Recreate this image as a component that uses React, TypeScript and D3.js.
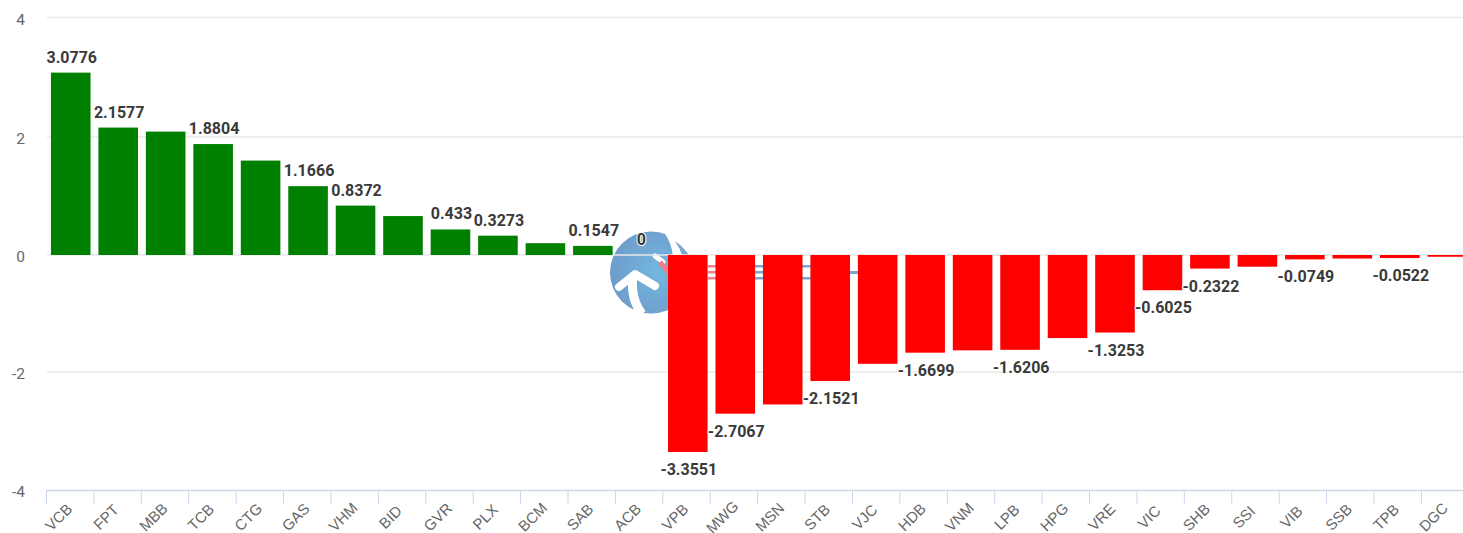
import React from "react";
import * as d3 from "d3";

const categories = ["VCB","FPT","MBB","TCB","CTG","GAS","VHM","BID","GVR","PLX","BCM","SAB","ACB","VPB","MWG","MSN","STB","VJC","HDB","VNM","LPB","HPG","VRE","VIC","SHB","SSI","VIB","SSB","TPB","DGC"];
const values = [3.0776,2.1577,2.09,1.8804,1.6,1.1666,0.8372,0.66,0.433,0.3273,0.2,0.1547,0,-3.3551,-2.7067,-2.55,-2.1521,-1.86,-1.6699,-1.63,-1.6206,-1.42,-1.3253,-0.6025,-0.2322,-0.2,-0.0749,-0.06,-0.0522,-0.03];
// labels the chart dropped where they would overlap
const hiddenLabels = ["MBB","CTG","BID","BCM","MSN","VJC","VNM","HPG","SSI","SSB","DGC"];
const yTicks = [4, 2, 0, -2, -4];

const width = 1463;
const height = 533;
const plotLeft = 47;
const plotRight = 1471;
const tickLeft = 46.5;
const tickStep = 47.41;

export default function App() {
  const x = d3.scaleBand().domain(categories).range([plotLeft, plotRight]).paddingInner(0.166).paddingOuter(0.083);
  // the screenshot is slightly uneven, so the scale is pinned at each gridline
  const y = d3.scaleLinear().domain([-4, -2, 0, 2, 4]).range([490, 372, 255, 137, 17.5]);

  return (
    <svg
      width={width}
      height={height}
      style={{ position: "absolute", left: 0, top: 0, background: "#fff" }}
    >
      <defs>
        <radialGradient id="logoFill" cx="0.6" cy="0.5" r="0.6">
          <stop offset="0" stopColor="#72b8e0" />
          <stop offset="1" stopColor="#6f9ccb" />
        </radialGradient>
      </defs>

      {/* watermark */}
      <g>
        <circle cx={651} cy={272.5} r={41} fill="url(#logoFill)" />
        <path d="M664 232 Q676 250 672 268 L690 300 L700 240 Z" fill="#fff" />
        <path d="M675 241 Q684 247 691 258 L683 258 Q681 250 675 241 Z" fill="#7aa6d2" />
        <path d="M655 256 L663 262" stroke="#fff" strokeWidth={5} strokeLinecap="round" />
        <path d="M660 262 L675 280" stroke="#f47c84" strokeWidth={5} />
        <path d="M619 287 L635 274 L655 286" fill="none" stroke="#fff" strokeWidth={8} strokeLinecap="round" strokeLinejoin="round" />
        <path d="M633 276 Q630 298 642 314" fill="none" stroke="#fff" strokeWidth={9} />
        <g fill="#f0808a">
          <rect x={708} y={265} width={8} height={2.5} />
          <rect x={708} y={271} width={8} height={2.5} />
          <rect x={708} y={277} width={8} height={2.5} />
        </g>
        <g fill="#7aa6d2">
          <rect x={754} y={265} width={10} height={2.5} />
          <rect x={754} y={271} width={10} height={2.5} />
          <rect x={754} y={277} width={10} height={2.5} />
          <rect x={802} y={265} width={9} height={2.5} />
          <rect x={802} y={277} width={9} height={2.5} />
          <rect x={850} y={271} width={8} height={3} />
        </g>
      </g>

      {yTicks.map((t) => (
        <g key={t}>
          {t !== -4 && (
            <line x1={plotLeft} x2={width} y1={y(t)} y2={y(t)} stroke="#e9e9e9" strokeWidth={1.5} />
          )}
          <text x={25} y={y(t) + 7} textAnchor="end" fontFamily="Roboto, sans-serif" fontSize={15.5} fill="#666">
            {t}
          </text>
        </g>
      ))}

      {categories.map((c, i) => {
        const v = values[i];
        return (
          <rect
            key={c}
            x={x(c)}
            y={y(Math.max(v, 0))}
            width={x.bandwidth()}
            height={Math.abs(y(v) - y(0))}
            fill={v >= 0 ? "#008000" : "#ff0000"}
          />
        );
      })}

      {/* x axis */}
      <line x1={tickLeft} x2={width} y1={490.5} y2={490.5} stroke="#ccd6eb" strokeWidth={1.5} />
      {categories.map((c, i) => {
        const tx = tickLeft + i * tickStep;
        return <line key={c} x1={tx} x2={tx} y1={490} y2={504} stroke="#ccd6eb" strokeWidth={1} />;
      })}
      {categories.map((c, i) => (
        <text
          key={c}
          transform={`translate(${tickLeft + i * tickStep + 13},${518}) rotate(-45)`}
          textAnchor="middle"
          dominantBaseline="middle"
          fontFamily="Liberation Sans, Arial, sans-serif"
          fontSize={15}
          fill="#666"
        >
          {c}
        </text>
      ))}

      {/* value labels */}
      {categories.map((c, i) => {
        if (hiddenLabels.includes(c)) return null;
        const v = values[i];
        const cx = x(c)! + x.bandwidth() / 2 + 1;
        return (
          <text
            key={c}
            x={cx}
            y={v >= 0 ? y(v) - 10 : y(v) + 23}
            textAnchor="middle"
            fontFamily="Roboto, sans-serif"
            fontSize={16}
            fontWeight={700}
            fill="#3a3a3a"
            stroke="#fff"
            strokeWidth={2}
            strokeLinejoin="round"
            paintOrder="stroke"
          >
            {v}
          </text>
        );
      })}
    </svg>
  );
}
